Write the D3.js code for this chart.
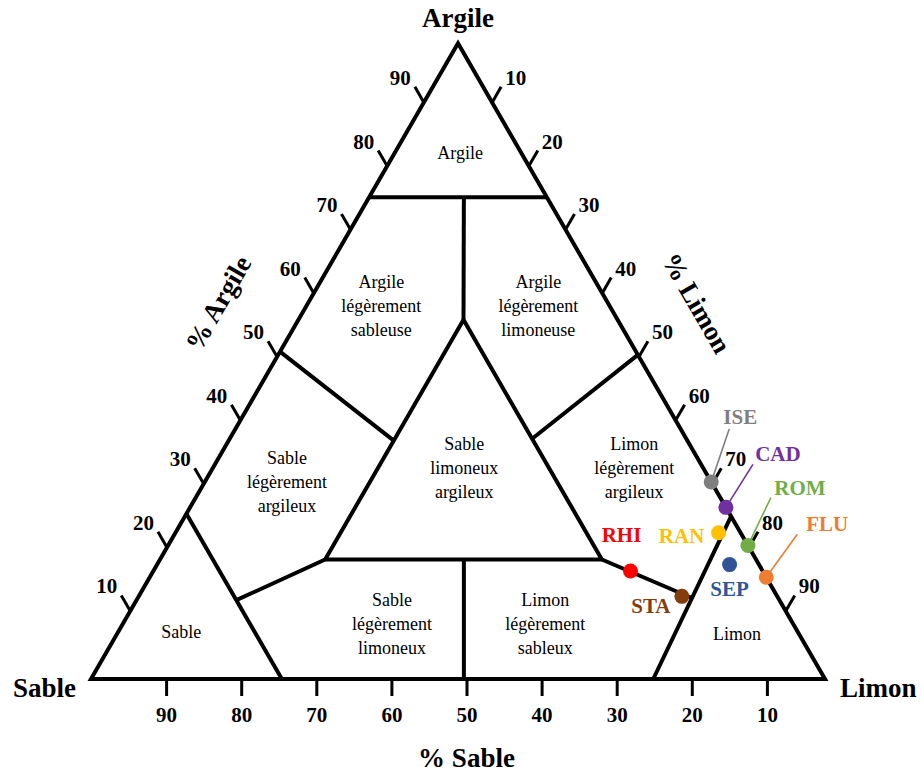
<!DOCTYPE html>
<html>
<head>
<meta charset="utf-8">
<script src="https://cdn.jsdelivr.net/npm/d3@7"></script>
<style>
  body { margin: 0; background: #fff; }
  svg { display: block; font-family: 'Liberation Serif', 'Times New Roman', serif; }
</style>
</head>
<body>
<div id="chart"></div>
<script>
// soil samples, composition in % (sand, silt, clay)
const samples = ['ISE', 'CAD', 'ROM', 'FLU', 'RAN', 'SEP', 'RHI', 'STA']
const sand = [0, 0, 0, 0, 3, 4, 18, 13]
const silt = [69, 73, 79, 84, 74, 78, 65, 74]
const clay = [31, 27, 21, 16, 23, 18, 17, 13]
const sampleColors = ['#7f7f7f', '#7030a0', '#70ad47', '#ed7d31', '#ffc000', '#2f5597', '#ff0000', '#843c0c']

const sandTicks = [90, 80, 70, 60, 50, 40, 30, 20, 10]
const clayTicks = [10, 20, 30, 40, 50, 60, 70, 80, 90]
const siltTicks = [10, 20, 30, 40, 50, 60, 70, 80, 90]

// texture class boundaries, each point is [sand, silt, clay]
const centralTriangle = [[58.7, 22.5, 18.8], [21, 22.5, 56.5], [21, 60.2, 18.8]]
const boundaries = [
  [[24.2, 0, 75.8], [0, 24.2, 75.8]],
  [[11.3, 12.9, 75.8], [21, 22.5, 56.5]],
  [[48.5, 0, 51.5], [40, 22.5, 37.5]],
  [[0, 49, 51], [21, 41.2, 37.8]],
  [[74, 0, 26], [74, 26, 0]],
  [[58.7, 22.5, 18.8], [74, 13.6, 12.4]],
  [[39.8, 41.4, 18.8], [49.2, 50.8, 0]],
  [[21, 60.2, 18.8], [11.7, 75.6, 12.7]],
  [[0, 74.4, 25.6], [23.4, 76.6, 0]]
]

const classNames = [
  ['Argile'],
  ['Argile', 'légèrement', 'sableuse'],
  ['Argile', 'légèrement', 'limoneuse'],
  ['Sable', 'limoneux', 'argileux'],
  ['Sable', 'légèrement', 'argileux'],
  ['Limon', 'légèrement', 'argileux'],
  ['Sable', 'légèrement', 'limoneux'],
  ['Limon', 'légèrement', 'sableux'],
  ['Sable'],
  ['Limon']
]

// layout: where each class name sits, in triangle units [silt, clay]
const classAnchors = [
  [8.9, 82.8], [10.2, 58.7], [31.6, 58.7], [34.2, 33.3], [11.2, 31.0],
  [57.4, 33.2], [36.6, 8.8], [57.5, 8.8], [8.6, 7.4], [84.4, 7.2]
]
// layout: label offsets from the dots, and leader line ends
const labelOffset = {
  ISE: [29, -65], CAD: [52, -53], ROM: [52, -58], FLU: [61, -53],
  RAN: [-37, 3], SEP: [0, 24], RHI: [-9, -36], STA: [-31, 10]
}
const leaderEnd = { ISE: [18, -53], CAD: [27, -43], ROM: [23, -48], FLU: [31, -43] }

const width = 924
const height = 773
const base = 679
const side = 734

const xScale = d3.scaleLinear().domain([0, 100]).range([91, 91 + side])
const yScale = d3.scaleLinear().domain([0, 100]).range([base, base - side * Math.sqrt(3) / 2])
// the printed ticks are spaced a little differently from the triangle itself
const sandAxis = d3.scaleLinear().domain([100, 0]).range([91, 842])
const sideAxis = d3.scaleLinear().domain([0, 100]).range([0.7, 100.7])

const project = ([sa, si, cl]) => [xScale(si + cl / 2), yScale(cl)]
const line = d3.line()

const svg = d3.select('#chart')
  .append('svg')
  .attr('width', width)
  .attr('height', height)

svg.append('rect').attr('width', width).attr('height', height).attr('fill', '#fff')

const corners = [[100, 0, 0], [0, 100, 0], [0, 0, 100]].map(project)

// class boundaries
const grid = svg.append('g')
  .attr('fill', 'none')
  .attr('stroke', '#000')
  .attr('stroke-width', 4)
  .attr('stroke-linejoin', 'miter')

grid.selectAll('path.boundary')
  .data(boundaries)
  .join('path')
  .attr('class', 'boundary')
  .attr('d', d => line(d.map(project)))

grid.append('path').attr('d', line(centralTriangle.map(project)) + 'Z')
grid.append('path').attr('d', line(corners) + 'Z')

// bottom axis (% Sable)
const xAxis = svg.append('g')
  .attr('transform', `translate(0,${base})`)
  .call(d3.axisBottom(sandAxis).tickValues(sandTicks).tickSize(17).tickPadding(11))
xAxis.select('.domain').remove()
xAxis.selectAll('line').attr('stroke-width', 3)
xAxis.attr('font-family', null).attr('font-size', 21).attr('font-weight', 'bold')
xAxis.selectAll('text').attr('fill', '#000')

// side axes (% Argile on the left, % Limon on the right)
const tickLen = 18
const sideTicks = [
  ...clayTicks.map(v => {
    const c = sideAxis(v)
    return { v, p: project([100 - c, 0, c]), dir: [-0.5, -0.866], lab: [-23.5, -24.5] }
  }),
  ...siltTicks.map(v => {
    const c = sideAxis(100 - v)
    return { v, p: project([0, 100 - c, c]), dir: [0.5, -0.866], lab: [23.5, -24.5] }
  })
]

const ticks = svg.append('g').selectAll('g').data(sideTicks).join('g')
ticks.append('line')
  .attr('x1', d => d.p[0])
  .attr('y1', d => d.p[1])
  .attr('x2', d => d.p[0] + d.dir[0] * tickLen)
  .attr('y2', d => d.p[1] + d.dir[1] * tickLen)
  .attr('stroke', '#000')
  .attr('stroke-width', 3)
ticks.append('text')
  .attr('x', d => d.p[0] + d.lab[0])
  .attr('y', d => d.p[1] + d.lab[1])
  .attr('text-anchor', 'middle')
  .attr('dominant-baseline', 'central')
  .attr('font-size', 21)
  .attr('font-weight', 'bold')
  .text(d => d.v)

// titles
const titles = svg.append('g').attr('font-weight', 'bold').attr('font-size', 27)
titles.append('text')
  .attr('x', corners[2][0]).attr('y', 27)
  .attr('text-anchor', 'middle').text('Argile')
titles.append('text')
  .attr('x', corners[0][0] - 15).attr('y', base + 18)
  .attr('text-anchor', 'end').text('Sable')
titles.append('text')
  .attr('x', corners[1][0] + 15).attr('y', base + 18)
  .attr('text-anchor', 'start').text('Limon')
titles.append('text')
  .attr('x', sandAxis(50)).attr('y', 767)
  .attr('text-anchor', 'middle').text('% Sable')

const leftMid = project([50, 0, 50])
const rightMid = project([0, 50, 50])
titles.append('text')
  .attr('transform', `translate(${leftMid[0] - 56},${leftMid[1] - 58}) rotate(-60)`)
  .attr('text-anchor', 'middle').attr('dominant-baseline', 'central')
  .text('% Argile')
titles.append('text')
  .attr('transform', `translate(${rightMid[0] + 55},${rightMid[1] - 58}) rotate(60)`)
  .attr('text-anchor', 'middle').attr('dominant-baseline', 'central')
  .text('% Limon')

// class names
const names = svg.append('g')
  .attr('font-size', 18)
  .attr('text-anchor', 'middle')
  .selectAll('text')
  .data(classNames)
  .join('text')
  .attr('transform', (d, i) => {
    const [si, cl] = classAnchors[i]
    const [x, y] = project([100 - si - cl, si, cl])
    return `translate(${x},${y})`
  })

names.selectAll('tspan')
  .data(d => d.map((t, j) => ({ t, dy: (j - (d.length - 1) / 2) * 24 })))
  .join('tspan')
  .attr('x', 0)
  .attr('y', d => d.dy + 6.5)
  .text(d => d.t)

// samples
const points = samples.map((name, i) => {
  const [x, y] = project([sand[i], silt[i], clay[i]])
  return { name, x, y, color: sampleColors[i] }
})

svg.append('g')
  .selectAll('line')
  .data(points.filter(d => leaderEnd[d.name]))
  .join('line')
  .attr('x1', d => d.x)
  .attr('y1', d => d.y)
  .attr('x2', d => d.x + leaderEnd[d.name][0])
  .attr('y2', d => d.y + leaderEnd[d.name][1])
  .attr('stroke', d => d.color)
  .attr('stroke-width', 1.6)

svg.append('g')
  .selectAll('circle')
  .data(points)
  .join('circle')
  .attr('cx', d => d.x)
  .attr('cy', d => d.y)
  .attr('r', 7.5)
  .attr('fill', d => d.color)

svg.append('g')
  .attr('font-size', 21)
  .attr('font-weight', 'bold')
  .attr('text-anchor', 'middle')
  .attr('dominant-baseline', 'central')
  .selectAll('text')
  .data(points)
  .join('text')
  .attr('x', d => d.x + labelOffset[d.name][0])
  .attr('y', d => d.y + labelOffset[d.name][1])
  .attr('fill', d => d.color)
  .text(d => d.name)
</script>
</body>
</html>
